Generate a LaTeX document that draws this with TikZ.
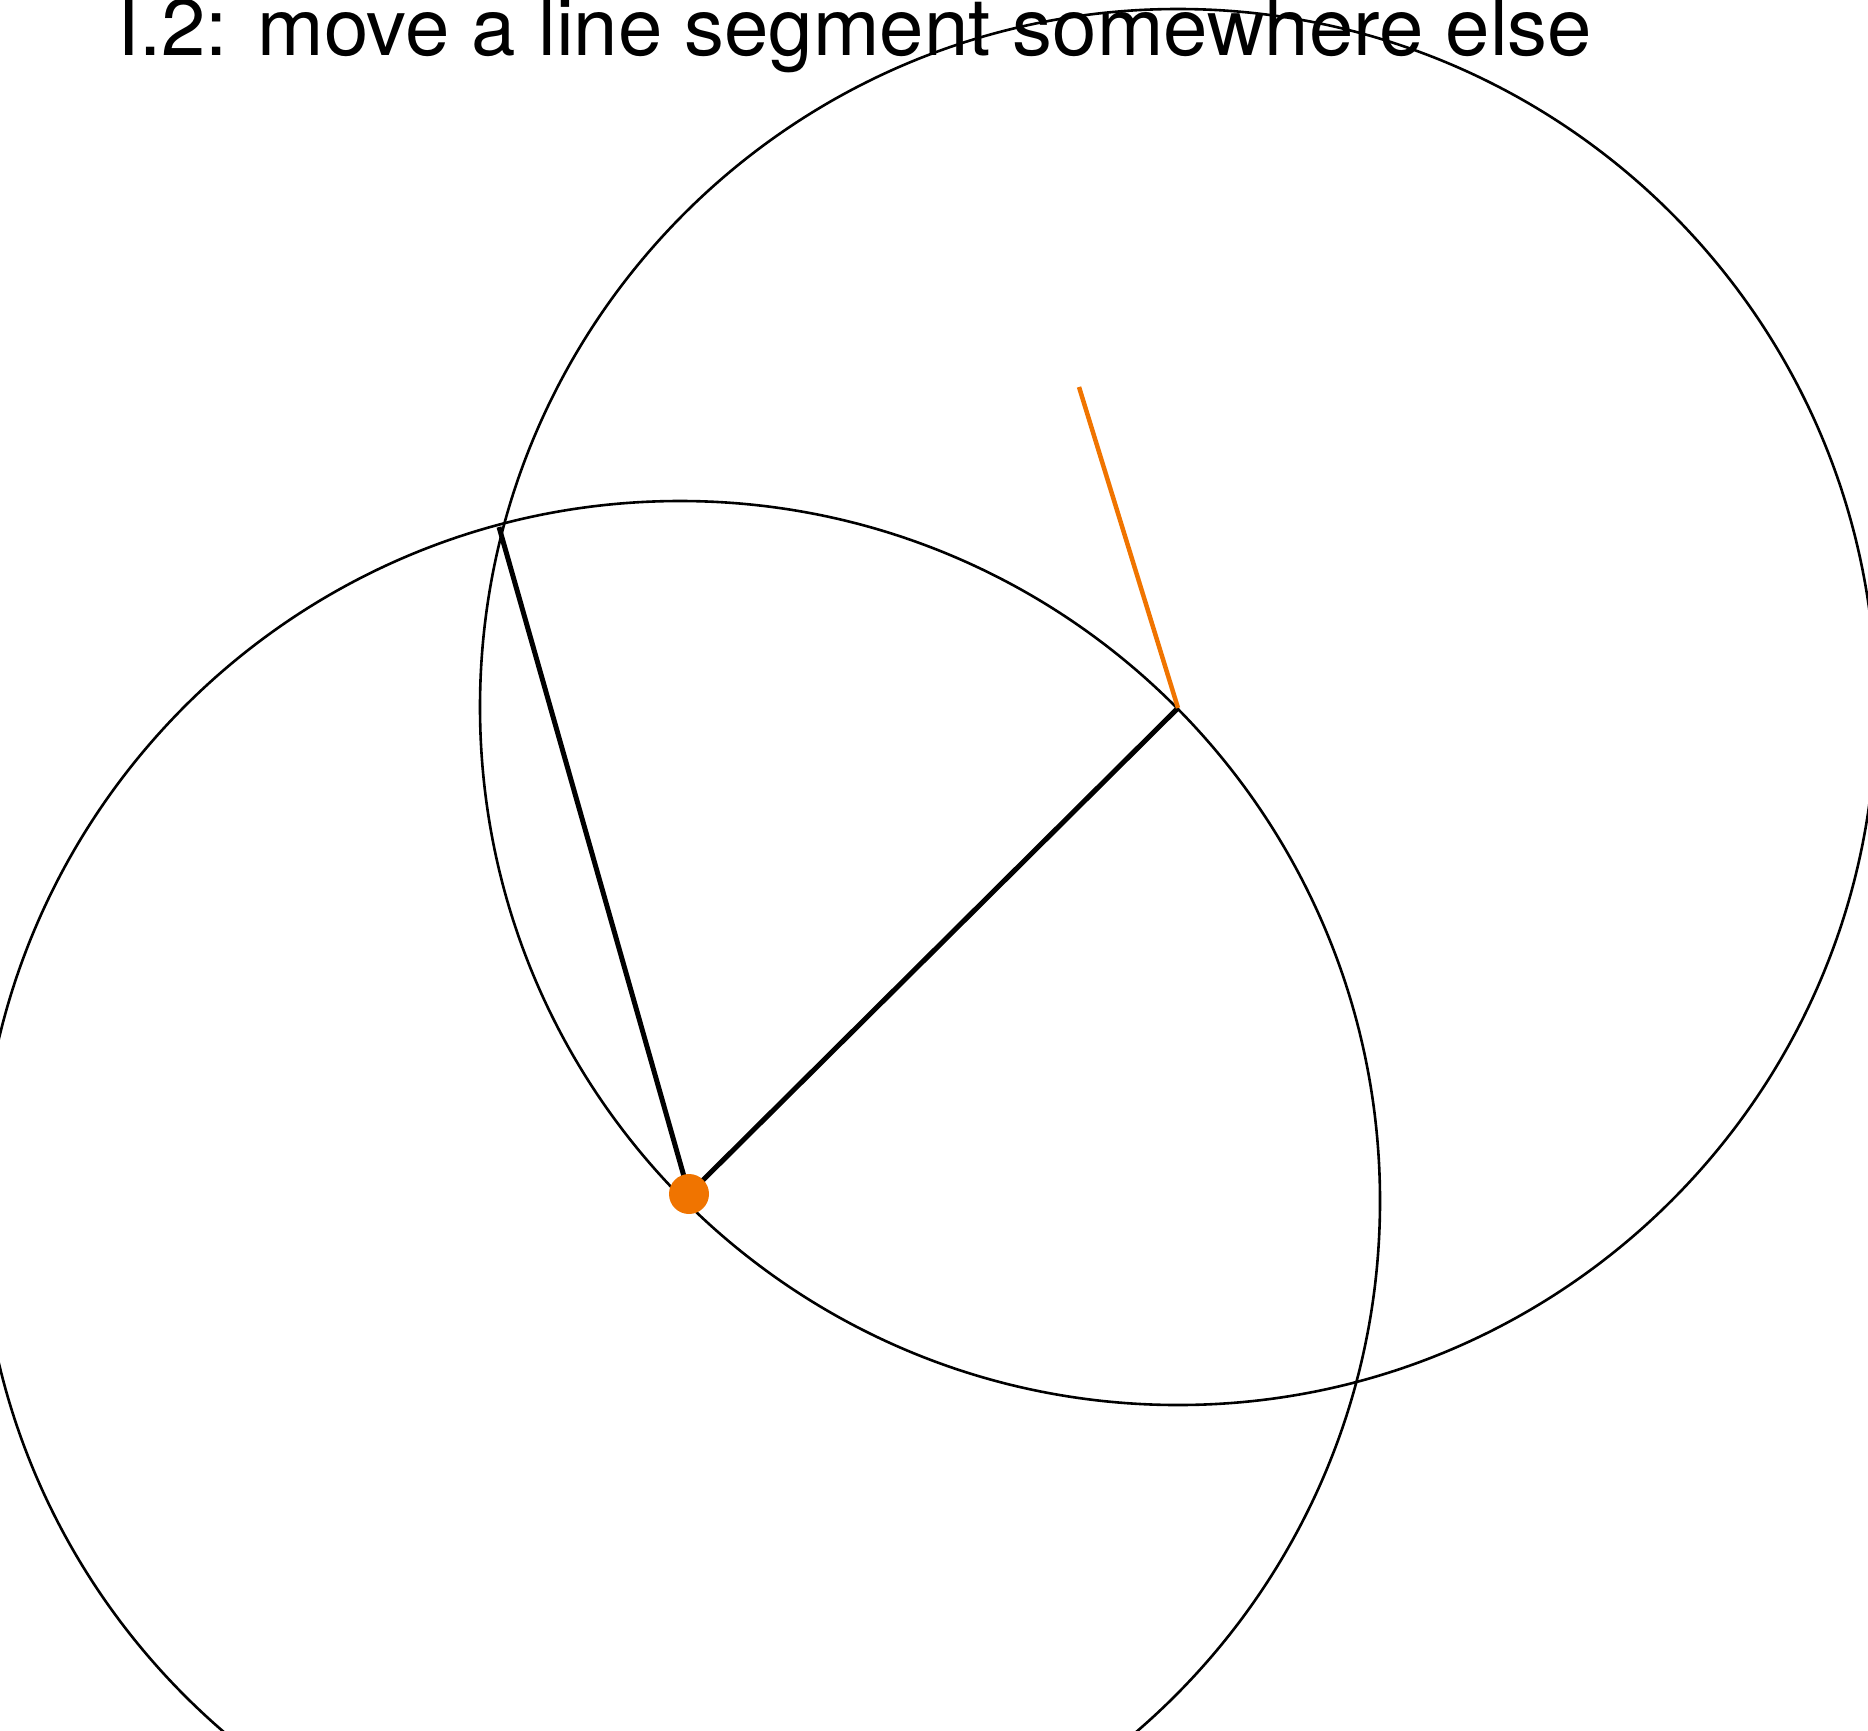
\documentclass[tikz,border=0pt]{standalone}
\usepackage{fontspec}
\setmainfont{TeX Gyre Heros}
\definecolor{eorange}{RGB}{240,116,0}
\tikzset{
  circ/.style={draw=black, line width=2.6pt},
  seg/.style={draw=black, line width=5pt},
  given/.style={draw=eorange, line width=4.5pt},
  title/.style={anchor=base west, inner sep=0pt, font=\fontsize{79.8pt}{96pt}\selectfont}
}
\begin{document}
\begin{tikzpicture}[x=1pt,y=-1pt]
\useasboundingbox (0,0) rectangle (1868,1730);
\clip (0,0) rectangle (1868,1730);
\coordinate (A) at (689,1194);
\coordinate (B) at (1178,708);
\coordinate (C) at (1079,387);
\coordinate (D) at (499,527);
\coordinate (c1) at (680,1201);
\coordinate (c2) at (1178,707);
\node[title] (t) at (117,55) {I.2: move a line segment somewhere else};
\draw[circ] (c1) circle[radius=700];
\draw[circ] (c2) circle[radius=698];
\draw[seg] (D) -- (A);
\draw[seg] (A) -- (B);
\draw[given] (B) -- (C);
\fill[eorange] (A) circle[radius=20];
\end{tikzpicture}
\end{document}
